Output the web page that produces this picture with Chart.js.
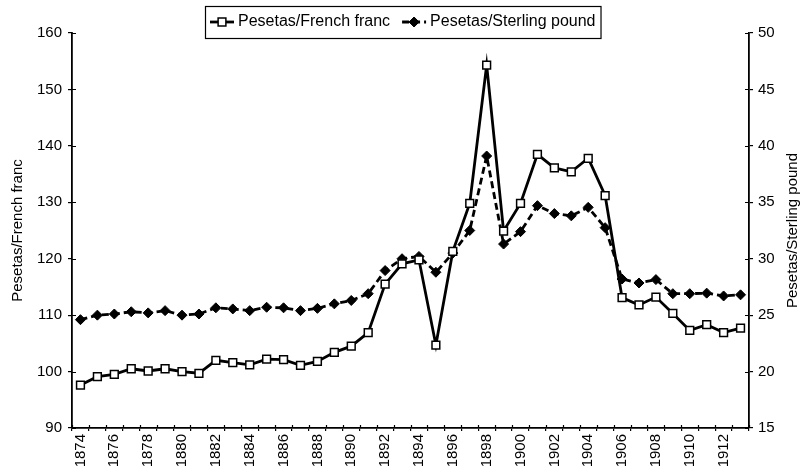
<!DOCTYPE html>
<html>
<head>
<meta charset="utf-8">
<title>Pesetas exchange rates 1874-1913</title>
<script src="https://cdn.jsdelivr.net/npm/chart.js@4.4.1/dist/chart.umd.min.js"></script>
<style>
  html, body { margin: 0; padding: 0; background: #fff; }
  #wrap { position: relative; width: 802px; height: 474px; }
</style>
</head>
<body>
<div id="wrap"><canvas id="output"></canvas></div>
<script>
// yearly exchange rates
const years = [
  "1874", "1875", "1876", "1877", "1878", "1879", "1880", "1881", "1882", "1883",
  "1884", "1885", "1886", "1887", "1888", "1889", "1890", "1891", "1892", "1893",
  "1894", "1895", "1896", "1897", "1898", "1899", "1900", "1901", "1902", "1903",
  "1904", "1905", "1906", "1907", "1908", "1909", "1910", "1911", "1912", "1913"
];
const frenchFranc = [
  97.6, 99.1, 99.5, 100.5, 100.1, 100.5, 100.0, 99.7, 102.0, 101.6,
  101.2, 102.2, 102.1, 101.1, 101.8, 103.4, 104.5, 106.9, 115.5, 119.1,
  119.8, 104.7, 121.3, 129.8, 154.3, 124.9, 129.8, 138.5, 136.1, 135.4,
  137.8, 131.2, 113.1, 111.8, 113.2, 110.3, 107.3, 108.3, 106.9, 107.7
];
const sterlingPound = [
  24.6, 25.0, 25.1, 25.3, 25.2, 25.4, 25.0, 25.1, 25.65, 25.55,
  25.4, 25.7, 25.65, 25.4, 25.6, 26.0, 26.3, 26.9, 28.95, 30.0,
  30.2, 28.8, 30.5, 32.5, 39.1, 31.3, 32.4, 34.7, 34.0, 33.8,
  34.55, 32.75, 28.2, 27.85, 28.15, 26.9, 26.9, 26.95, 26.7, 26.8
];
const francTicks = [90, 100, 110, 120, 130, 140, 150, 160];
const poundTicks = [15, 20, 25, 30, 35, 40, 45, 50];

const FONT = '"Liberation Sans", Arial, sans-serif';
Chart.defaults.font.family = FONT;
Chart.defaults.color = "#000";

// small ticks that cross into the plot area (Excel "cross" tick marks)
const innerTicks = {
  id: "innerTicks",
  afterDatasetsDraw(chart) {
    const { ctx, chartArea: a, scales } = chart;
    ctx.save();
    ctx.strokeStyle = "#000";
    ctx.lineWidth = 1.2;
    ctx.beginPath();
    scales.y.ticks.forEach((t) => {
      const p = Math.round(scales.y.getPixelForValue(t.value)) + 0.5;
      ctx.moveTo(a.left, p);
      ctx.lineTo(a.left + 4, p);
    });
    scales.y1.ticks.forEach((t) => {
      const p = Math.round(scales.y1.getPixelForValue(t.value)) + 0.5;
      ctx.moveTo(a.right, p);
      ctx.lineTo(a.right - 4, p);
    });
    const x = scales.x;
    const half = (x.getPixelForValue(1) - x.getPixelForValue(0)) / 2;
    for (let i = 0; i <= years.length; i++) {
      const p = Math.round(x.getPixelForValue(i) - half) + 0.5;
      ctx.moveTo(p, a.bottom);
      ctx.lineTo(p, a.bottom - 3);
    }
    ctx.stroke();
    ctx.restore();
  },
};

// boxed legend sitting over the top of the plot, plus the right axis title
const boxLegend = {
  id: "boxLegend",
  afterDraw(chart) {
    const { ctx, chartArea: a } = chart;
    const sets = chart.data.datasets;
    ctx.save();
    ctx.font = "16px " + FONT;
    const sample = 24, gap = 4, spacing = 12, pad = 5;
    const widths = sets.map((d) => ctx.measureText(d.label).width);
    let total = pad * 2;
    widths.forEach((w, i) => (total += sample + gap + w + (i ? spacing : 0)));
    const top = 6, h = 32;
    let x = Math.round(403 - total / 2);
    ctx.fillStyle = "#fff";
    ctx.fillRect(x, top, total, h);
    ctx.strokeStyle = "#000";
    ctx.lineWidth = 1.2;
    ctx.strokeRect(x + 0.5, top + 0.5, total, h);
    const y = top + h / 2;
    x += pad;
    sets.forEach((d, i) => {
      if (i) x += spacing;
      ctx.strokeStyle = "#000";
      ctx.lineWidth = d.borderWidth;
      ctx.setLineDash(d.borderDash || []);
      ctx.beginPath();
      ctx.moveTo(x, y);
      ctx.lineTo(x + sample, y);
      ctx.stroke();
      ctx.setLineDash([]);
      const cx = x + sample / 2;
      const r = d.pointRadius;
      ctx.beginPath();
      if (d.pointStyle === "rect") {
        const s = r * Math.SQRT1_2;
        ctx.rect(cx - s, y - s, 2 * s, 2 * s);
      } else {
        ctx.moveTo(cx, y - r);
        ctx.lineTo(cx + r, y);
        ctx.lineTo(cx, y + r);
        ctx.lineTo(cx - r, y);
        ctx.closePath();
      }
      ctx.fillStyle = d.pointBackgroundColor;
      ctx.fill();
      ctx.lineWidth = d.pointBorderWidth;
      ctx.stroke();
      ctx.fillStyle = "#000";
      ctx.textBaseline = "middle";
      ctx.textAlign = "left";
      ctx.fillText(d.label, x + sample + gap, y);
      x += sample + gap + widths[i];
    });

    // right-hand axis title, reading bottom to top like the left one
    ctx.font = "15px " + FONT;
    ctx.translate(793, (a.top + a.bottom) / 2);
    ctx.rotate(-Math.PI / 2);
    ctx.textAlign = "center";
    ctx.textBaseline = "middle";
    ctx.fillText("Pesetas/Sterling pound", 0, 0);
    ctx.restore();
  },
};

const ctx = document.getElementById("output").getContext("2d");
new Chart(ctx, {
  type: "line",
  data: {
    labels: years,
    datasets: [
      {
        label: "Pesetas/French franc",
        data: frenchFranc,
        yAxisID: "y",
        borderColor: "#000",
        borderWidth: 2.8,
        pointStyle: "rect",
        pointRadius: 5.5,
        pointBackgroundColor: "#fff",
        pointBorderColor: "#000",
        pointBorderWidth: 1.5,
        tension: 0,
      },
      {
        label: "Pesetas/Sterling pound",
        data: sterlingPound,
        yAxisID: "y1",
        borderColor: "#000",
        borderWidth: 2.8,
        borderDash: [7, 4],
        pointStyle: "rectRot",
        pointRadius: 5,
        pointBackgroundColor: "#000",
        pointBorderColor: "#000",
        pointBorderWidth: 1,
        tension: 0,
      },
    ],
  },
  options: {
    responsive: true,
    maintainAspectRatio: false,
    animation: false,
    layout: { padding: { top: 33, right: 0, bottom: 0, left: 0 } },
    plugins: {
      legend: { display: false },
      tooltip: { enabled: false },
    },
    scales: {
      x: {
        type: "category",
        offset: true,
        grid: { offset: true, drawOnChartArea: false, tickLength: 3, color: "#000", lineWidth: 1.2 },
        border: { color: "#000", width: 1.8 },
        ticks: {
          autoSkip: false,
          minRotation: 90,
          maxRotation: 90,
          padding: 3,
          font: { size: 15 },
          callback: (v, i) => (i % 2 === 0 ? years[i] : ""),
        },
        afterFit: (s) => { s.height = 46; },
      },
      y: {
        position: "left",
        min: 90,
        max: 160,
        afterBuildTicks: (s) => { s.ticks = francTicks.map((v) => ({ value: v })); },
        grid: { drawOnChartArea: false, tickLength: 4, color: "#000", lineWidth: 1.2 },
        border: { color: "#000", width: 1.8 },
        ticks: { padding: 6, font: { size: 15 } },
        title: {
          display: true,
          text: "Pesetas/French franc",
          font: { size: 15 },
          padding: { top: 9, bottom: 0 },
        },
        afterFit: (s) => { s.width = 72; },
      },
      y1: {
        position: "right",
        min: 15,
        max: 50,
        afterBuildTicks: (s) => { s.ticks = poundTicks.map((v) => ({ value: v })); },
        grid: { drawOnChartArea: false, tickLength: 4, color: "#000", lineWidth: 1.2 },
        border: { color: "#000", width: 1.8 },
        ticks: { padding: 5, font: { size: 15 } },
        afterFit: (s) => { s.width = 53; },
      },
    },
  },
  plugins: [innerTicks, boxLegend],
});
</script>
</body>
</html>
